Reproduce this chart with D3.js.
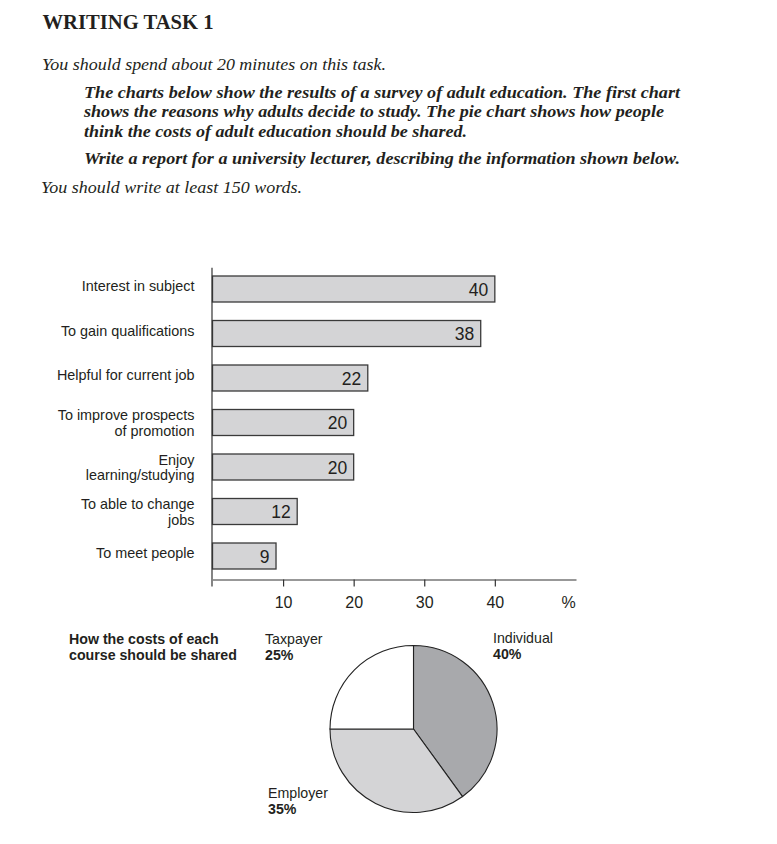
<!DOCTYPE html>
<html>
<head>
<meta charset="utf-8">
<script src="https://cdn.jsdelivr.net/npm/d3@7/dist/d3.min.js"></script>
<style>
  html, body { margin: 0; padding: 0; background: #fff; }
  svg { display: block; }
</style>
</head>
<body>
<svg id="chart" width="777" height="844"></svg>
<script>
// ---------- data ----------
const reasons = [
  "Interest in subject",
  "To gain qualifications",
  "Helpful for current job",
  "To improve prospects\nof promotion",
  "Enjoy\nlearning/studying",
  "To able to change\njobs",
  "To meet people"
];
const reasonValues = [40, 38, 22, 20, 20, 12, 9];
const xTicks = [10, 20, 30, 40];
const xUnit = "%";

const payers = ["Individual", "Employer", "Taxpayer"];
const payerShares = [40, 35, 25];
const pieTitle = ["How the costs of each", "course should be shared"];

const heading = "WRITING TASK 1";
const introLine = "You should spend about 20 minutes on this task.";
const taskLines = [
  "The charts below show the results of a survey of adult education. The first chart",
  "shows the reasons why adults decide to study. The pie chart shows how people",
  "think the costs of adult education should be shared."
];
const reportLine = "Write a report for a university lecturer, describing the information shown below.";
const wordsLine = "You should write at least 150 words.";

// ---------- setup ----------
const svg = d3.select("#chart");
const ink = "#231f20";
const serif = "'Liberation Serif', 'DejaVu Serif', serif";
const sans = "'Liberation Sans', Arial, sans-serif";

function serifText(txt, x, y, size, width, weight, style) {
  svg.append("text")
    .attr("x", x).attr("y", y)
    .attr("font-family", serif)
    .attr("font-size", size)
    .attr("font-weight", weight)
    .attr("font-style", style)
    .attr("fill", ink)
    .attr("textLength", width)
    .attr("lengthAdjust", "spacingAndGlyphs")
    .text(txt);
}

// ---------- header text ----------
serifText(heading, 42.5, 28.5, 20, 171, "bold", "normal");
serifText(introLine, 42, 70, 17, 344, "normal", "italic");
const taskWidths = [596, 580, 383];
const taskY = [97.5, 117, 137];
taskLines.forEach((t, i) => serifText(t, 84, taskY[i], 17, taskWidths[i], "bold", "italic"));
serifText(reportLine, 84, 164, 17, 596, "bold", "italic");
serifText(wordsLine, 41, 193, 17, 261, "normal", "italic");

// ---------- bar chart ----------
const x = d3.scaleLinear().domain([0, 51.5]).range([212.5, 576]);
const y = d3.scaleBand().domain(reasons).range([266.75, 578.25])
  .paddingInner(0.4157).paddingOuter(0.4157 / 2);

const bars = svg.append("g");
bars.selectAll("rect")
  .data(reasons.map((r, i) => ({ r, v: reasonValues[i] })))
  .join("rect")
  .attr("x", x(0))
  .attr("y", d => y(d.r))
  .attr("width", d => x(d.v) - x(0))
  .attr("height", y.bandwidth())
  .attr("fill", "#d4d4d6")
  .attr("stroke", "#3a3a3a")
  .attr("stroke-width", 1.3);

bars.selectAll("text.val")
  .data(reasons.map((r, i) => ({ r, v: reasonValues[i] })))
  .join("text")
  .attr("class", "val")
  .attr("x", d => x(d.v) - 6.5)
  .attr("y", d => y(d.r) + y.bandwidth() / 2 + 6.5)
  .attr("text-anchor", "end")
  .attr("font-family", sans)
  .attr("font-size", 17.5)
  .attr("fill", ink)
  .text(d => d.v);

// category labels
const labels = svg.append("g");
reasons.forEach(r => {
  const lines = r.split("\n");
  const cy = y(r) + y.bandwidth() / 2;
  const t = labels.append("text")
    .attr("text-anchor", "end")
    .attr("font-family", sans)
    .attr("font-size", 14.4)
    .attr("fill", ink);
  lines.forEach((ln, j) => {
    const base = lines.length === 1 ? cy + 2 : cy - 2.5 + j * 15.5;
    t.append("tspan").attr("x", 194.5).attr("y", base).text(ln);
  });
});

// axes
const axisY = 579.5;
const xAxis = d3.axisBottom(x).tickValues(xTicks).tickSize(7).tickSizeOuter(0);
const gx = svg.append("g").attr("transform", `translate(0,${axisY})`).call(xAxis);
gx.select(".domain").attr("stroke", "#333").attr("stroke-width", 1.2);
gx.selectAll(".tick line").attr("stroke", "#333").attr("stroke-width", 1.2);
gx.selectAll(".tick text")
  .attr("y", 28.5).attr("dy", null)
  .attr("font-family", sans).attr("font-size", 16).attr("fill", ink);
gx.append("text")
  .attr("x", 568.5).attr("y", 28.5)
  .attr("text-anchor", "middle")
  .attr("font-family", sans).attr("font-size", 16).attr("fill", ink)
  .text(xUnit);

// vertical axis line
svg.append("line")
  .attr("x1", x(0) - 0.5).attr("x2", x(0) - 0.5)
  .attr("y1", y.range()[0] + 1).attr("y2", axisY + 7)
  .attr("stroke", "#333").attr("stroke-width", 1.2);

// ---------- pie chart ----------
const cx = 413.5, cy = 729, r = 83.5;
const pie = d3.pie().sort(null).value(d => d.v);
const arc = d3.arc().innerRadius(0).outerRadius(r);
const pieFills = ["#a8a9ac", "#d4d4d6", "#ffffff"];
const pieData = pie(payers.map((p, i) => ({ p, v: payerShares[i] })));

svg.append("g").attr("transform", `translate(${cx},${cy})`)
  .selectAll("path")
  .data(pieData)
  .join("path")
  .attr("d", arc)
  .attr("fill", (d, i) => pieFills[i])
  .attr("stroke", "#222")
  .attr("stroke-width", 1.1);

// pie title
pieTitle.forEach((t, i) => {
  svg.append("text")
    .attr("x", 69).attr("y", 643.5 + i * 16)
    .attr("font-family", sans).attr("font-size", 14.2).attr("font-weight", "bold")
    .attr("fill", ink).text(t);
});

// slice labels
const labelPos = {
  "Individual": [493, 642.5],
  "Employer": [268, 797.5],
  "Taxpayer": [265, 643.5]
};
payers.forEach((p, i) => {
  const [lx, ly] = labelPos[p];
  svg.append("text")
    .attr("x", lx).attr("y", ly)
    .attr("font-family", sans).attr("font-size", 14.2)
    .attr("fill", ink).text(p);
  svg.append("text")
    .attr("x", lx).attr("y", ly + 16)
    .attr("font-family", sans).attr("font-size", 14.2).attr("font-weight", "bold")
    .attr("fill", ink).text(payerShares[i] + "%");
});
</script>
</body>
</html>
